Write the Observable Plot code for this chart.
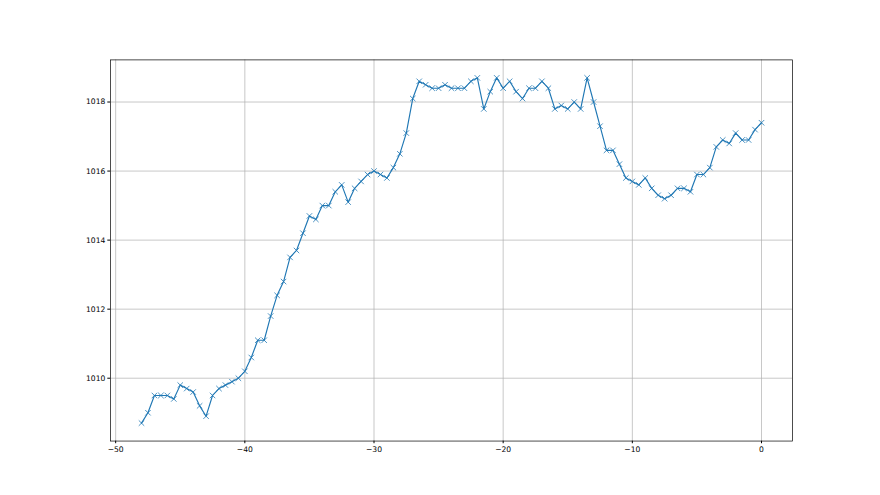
<!DOCTYPE html>
<html>
<head>
<meta charset="utf-8">
<script src="https://cdn.jsdelivr.net/npm/d3@7"></script>
<script src="https://cdn.jsdelivr.net/npm/@observablehq/plot@0.6"></script>
<style>
  html, body { margin: 0; padding: 0; background: #fff; }
  #chart svg { display: block; }
</style>
</head>
<body>
<div id="chart"></div>
<script>
const hours = [
  -48, -47.5, -47, -46.5, -46, -45.5, -45, -44.5, -44, -43.5,
  -43, -42.5, -42, -41.5, -41, -40.5, -40, -39.5, -39, -38.5,
  -38, -37.5, -37, -36.5, -36, -35.5, -35, -34.5, -34, -33.5,
  -33, -32.5, -32, -31.5, -31, -30.5, -30, -29.5, -29, -28.5,
  -28, -27.5, -27, -26.5, -26, -25.5, -25, -24.5, -24, -23.5,
  -23, -22.5, -22, -21.5, -21, -20.5, -20, -19.5, -19, -18.5,
  -18, -17.5, -17, -16.5, -16, -15.5, -15, -14.5, -14, -13.5,
  -13, -12.5, -12, -11.5, -11, -10.5, -10, -9.5, -9, -8.5,
  -8, -7.5, -7, -6.5, -6, -5.5, -5, -4.5, -4, -3.5,
  -3, -2.5, -2, -1.5, -1, -0.5, 0
];
const pressure = [
  1008.7, 1009.0, 1009.5, 1009.5, 1009.5, 1009.4, 1009.8, 1009.7, 1009.6, 1009.2,
  1008.9, 1009.5, 1009.7, 1009.8, 1009.9, 1010.0, 1010.2, 1010.6, 1011.1, 1011.1,
  1011.8, 1012.4, 1012.8, 1013.5, 1013.7, 1014.2, 1014.7, 1014.6, 1015.0, 1015.0,
  1015.4, 1015.6, 1015.1, 1015.5, 1015.7, 1015.9, 1016.0, 1015.9, 1015.8, 1016.1,
  1016.5, 1017.1, 1018.1, 1018.6, 1018.5, 1018.4, 1018.4, 1018.5, 1018.4, 1018.4,
  1018.4, 1018.6, 1018.7, 1017.8, 1018.3, 1018.7, 1018.4, 1018.6, 1018.3, 1018.1,
  1018.4, 1018.4, 1018.6, 1018.4, 1017.8, 1017.9, 1017.8, 1018.0, 1017.8, 1018.7,
  1018.0, 1017.3, 1016.6, 1016.6, 1016.2, 1015.8, 1015.7, 1015.6, 1015.8, 1015.5,
  1015.3, 1015.2, 1015.3, 1015.5, 1015.5, 1015.4, 1015.9, 1015.9, 1016.1, 1016.7,
  1016.9, 1016.8, 1017.1, 1016.9, 1016.9, 1017.2, 1017.4
];
const xTicks = [-50, -40, -30, -20, -10, 0];
const yTicks = [1010, 1012, 1014, 1016, 1018];

const data = hours.map((h, i) => ({h, p: pressure[i]}));
const color = "#1f77b4";

const chart = Plot.plot({
  width: 880,
  height: 495,
  marginLeft: 110,
  marginRight: 88,
  marginTop: 59.4,
  marginBottom: 54.45,
  style: {fontFamily: "DejaVu Sans", fontSize: "7.6px", color: "#000", background: "#fff"},
  x: {domain: [-50.4, 2.4], ticks: xTicks, tickSize: 2.7, tickPadding: 2.5, label: null, tickFormat: d3.format("d")},
  y: {domain: [1008.18, 1019.22], ticks: yTicks, tickSize: 2.7, tickPadding: 2.5, label: null, tickFormat: d3.format("d")},
  marks: [
    Plot.gridX(xTicks, {stroke: "#b0b0b0", strokeOpacity: 1, strokeWidth: 0.7}),
    Plot.gridY(yTicks, {stroke: "#b0b0b0", strokeOpacity: 1, strokeWidth: 0.7}),
    Plot.line(data, {x: "h", y: "p", stroke: color, strokeWidth: 1.15}),
    Plot.dot(data, {x: "h", y: "p", symbol: "times", r: 2.6, stroke: color, strokeWidth: 0.8, fill: "none"}),
    Plot.frame({stroke: "#000", strokeWidth: 0.7})
  ]
});
document.getElementById("chart").appendChild(chart);
</script>
</body>
</html>
